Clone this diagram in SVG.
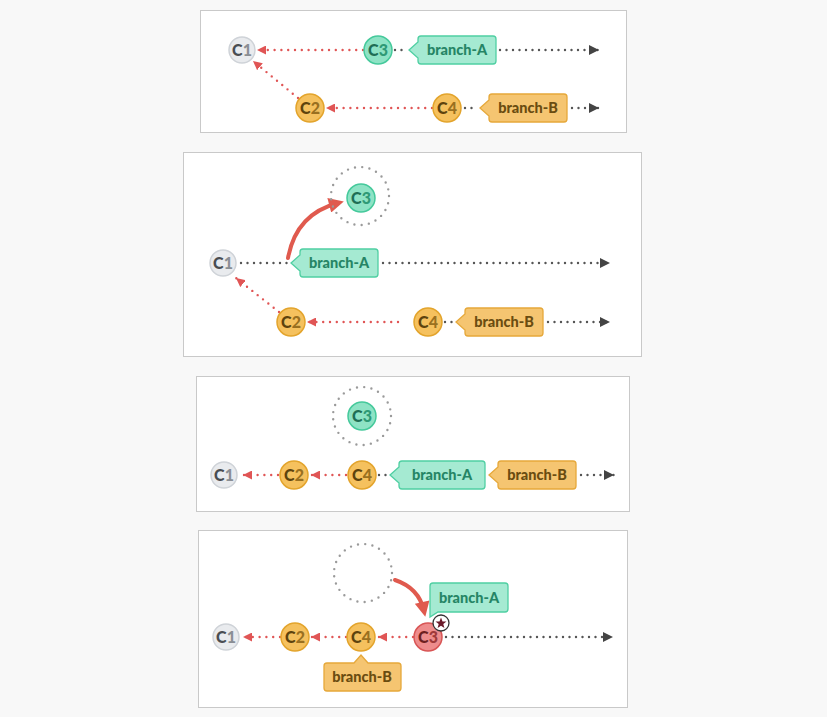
<svg xmlns="http://www.w3.org/2000/svg" width="827" height="717" viewBox="0 0 827 717">
<defs>
<style>
.frame{fill:#fff;stroke:#c9c9c9;stroke-width:1}
.nd{stroke-width:1.5}
.g{fill:#e9ebee;stroke:#cfd3d8}
.gr{fill:#8ee3c5;stroke:#45c99b}
.or{fill:#f5c15e;stroke:#e3a42c}
.rd{fill:#ee8c8c;stroke:#d85555}
.lbl{font-family:Lato,"Liberation Sans",sans-serif;font-weight:900;font-size:16px;text-anchor:middle}
.tg{font-family:Lato,"Liberation Sans",sans-serif;font-weight:900;font-size:14.5px;text-anchor:middle}
.tagA{fill:#a5ead2;stroke:#4fcfa2;stroke-width:1.3}
.tagB{fill:#f5c571;stroke:#e6a83a;stroke-width:1.3}
.tA{fill:#258565}
.tB{fill:#6a4c10}
.red{fill:none;stroke:#e05555;stroke-width:2.4;stroke-linecap:round;stroke-dasharray:0 6.8;marker-end:url(#ra)}
.blk{fill:none;stroke:#555;stroke-width:2.4;stroke-linecap:round;stroke-dasharray:0 6.5}
.blka{marker-end:url(#ka)}
.ghost{fill:none;stroke:#9a9a9a;stroke-width:2.4;stroke-linecap:round;stroke-dasharray:0 7.3}
.big{fill:none;stroke:#e05a4e;stroke-width:4;stroke-linecap:round;marker-end:url(#ba)}
</style>
<marker id="ra" viewBox="0 0 10 10" refX="10" refY="5" markerWidth="9" markerHeight="9" markerUnits="userSpaceOnUse" orient="auto"><path d="M0,0 L10,5 L0,10 z" fill="#e05555"/></marker>
<marker id="ka" viewBox="0 0 10 10" refX="10" refY="5" markerWidth="10" markerHeight="10" markerUnits="userSpaceOnUse" orient="auto"><path d="M0,0 L10,5 L0,10 z" fill="#444"/></marker>
<marker id="ba" viewBox="0 0 10 10" refX="6" refY="5" markerWidth="16" markerHeight="15" markerUnits="userSpaceOnUse" orient="auto"><path d="M0,0 L10,5 L0,10 z" fill="#e05a4e"/></marker>
</defs>
<rect width="827" height="717" fill="#f8f8f8"/>

<!-- Panel frames -->
<rect class="frame" x="200.5" y="10.5" width="426" height="122"/>
<rect class="frame" x="183.5" y="152.5" width="458" height="204"/>
<rect class="frame" x="196.5" y="376.5" width="433" height="135"/>
<rect class="frame" x="198.5" y="530.5" width="429" height="177"/>

<!-- Connectors -->
<g id="connectors">
<!-- panel 1 -->
<line class="red" x1="363" y1="50" x2="257" y2="50"/>
<line class="red" x1="298" y1="98" x2="253" y2="61"/>
<line class="red" x1="432" y1="108" x2="326" y2="108"/>
<line class="blk" x1="395" y1="50" x2="406" y2="50"/>
<line class="blk blka" x1="500" y1="50" x2="599" y2="50"/>
<line class="blk" x1="465" y1="108" x2="477" y2="108"/>
<line class="blk blka" x1="572" y1="108" x2="599" y2="108"/>
<!-- panel 2 -->
<line class="blk" x1="241" y1="263" x2="288" y2="263"/>
<line class="blk blka" x1="383" y1="263" x2="610" y2="263"/>
<line class="red" x1="398" y1="322" x2="307" y2="322"/>
<line class="red" x1="279" y1="312" x2="236" y2="278"/>
<line class="blk" x1="445" y1="322" x2="453" y2="322"/>
<line class="blk blka" x1="548" y1="322" x2="610" y2="322"/>
<path class="big" d="M288,258 Q296,214 338,203"/>
<!-- panel 3 -->
<line class="red" x1="278" y1="475" x2="243" y2="475"/>
<line class="red" x1="346" y1="475" x2="311" y2="475"/>
<line class="blk" x1="379" y1="475" x2="388" y2="475"/>
<line class="blk blka" x1="581" y1="475" x2="614" y2="475"/>
<!-- panel 4 -->
<line class="red" x1="280" y1="637" x2="243" y2="637"/>
<line class="red" x1="346" y1="637" x2="311" y2="637"/>
<line class="red" x1="413" y1="637" x2="378" y2="637"/>
<line class="blk blka" x1="446" y1="637" x2="613" y2="637"/>
<path class="big" d="M395,580 Q419,588 424,611"/>
</g>

<!-- Panel 1 nodes -->
<g id="p1-c1"><circle class="nd g" cx="242" cy="50" r="13"/><text class="lbl" x="242" y="55.5"><tspan fill="#4a4d52">C</tspan><tspan fill="#8a8e94">1</tspan></text></g>
<g id="p1-c3"><circle class="nd gr" cx="378" cy="50" r="14"/><text class="lbl" x="378" y="55.5"><tspan fill="#1f6e55">C</tspan><tspan fill="#2f9a76">3</tspan></text></g>
<g id="p1-c2"><circle class="nd or" cx="310" cy="108" r="14"/><text class="lbl" x="310" y="113.5"><tspan fill="#5e430d">C</tspan><tspan fill="#9a7020">2</tspan></text></g>
<g id="p1-c4"><circle class="nd or" cx="447" cy="108" r="14"/><text class="lbl" x="447" y="113.5"><tspan fill="#5e430d">C</tspan><tspan fill="#9a7020">4</tspan></text></g>
<g id="p1-branchA"><path class="tagA" d="M409,50 L418,42 V39 a3,3 0 0 1 3,-3 H493 a3,3 0 0 1 3,3 V61 a3,3 0 0 1 -3,3 H421 a3,3 0 0 1 -3,-3 V58 Z"/><text class="tg tA" x="457" y="55">branch-A</text></g>
<g id="p1-branchB"><path class="tagB" d="M480,108 L489,100 V97 a3,3 0 0 1 3,-3 H564 a3,3 0 0 1 3,3 V119 a3,3 0 0 1 -3,3 H492 a3,3 0 0 1 -3,-3 V116 Z"/><text class="tg tB" x="528" y="113">branch-B</text></g>

<!-- Panel 2 nodes -->
<g id="p2-c1"><circle class="nd g" cx="223" cy="263" r="13"/><text class="lbl" x="223" y="268.5"><tspan fill="#4a4d52">C</tspan><tspan fill="#8a8e94">1</tspan></text></g>
<g id="p2-c3"><circle class="ghost" cx="360" cy="196" r="29"/><circle class="nd gr" cx="361" cy="198" r="14"/><text class="lbl" x="361" y="203.5"><tspan fill="#1f6e55">C</tspan><tspan fill="#2f9a76">3</tspan></text></g>
<g id="p2-c2"><circle class="nd or" cx="291" cy="322" r="14"/><text class="lbl" x="291" y="327.5"><tspan fill="#5e430d">C</tspan><tspan fill="#9a7020">2</tspan></text></g>
<g id="p2-c4"><circle class="nd or" cx="428" cy="322" r="14"/><text class="lbl" x="428" y="327.5"><tspan fill="#5e430d">C</tspan><tspan fill="#9a7020">4</tspan></text></g>
<g id="p2-branchA"><path class="tagA" d="M291,263 L300,255 V252 a3,3 0 0 1 3,-3 H375 a3,3 0 0 1 3,3 V274 a3,3 0 0 1 -3,3 H303 a3,3 0 0 1 -3,-3 V271 Z"/><text class="tg tA" x="339" y="268">branch-A</text></g>
<g id="p2-branchB"><path class="tagB" d="M456,322 L465,314 V311 a3,3 0 0 1 3,-3 H540 a3,3 0 0 1 3,3 V333 a3,3 0 0 1 -3,3 H468 a3,3 0 0 1 -3,-3 V330 Z"/><text class="tg tB" x="504" y="327">branch-B</text></g>

<!-- Panel 3 nodes -->
<g id="p3-c3"><circle class="ghost" cx="362" cy="416" r="29"/><circle class="nd gr" cx="362" cy="416" r="14"/><text class="lbl" x="362" y="421.5"><tspan fill="#1f6e55">C</tspan><tspan fill="#2f9a76">3</tspan></text></g>
<g id="p3-c1"><circle class="nd g" cx="224" cy="475" r="13"/><text class="lbl" x="224" y="480.5"><tspan fill="#4a4d52">C</tspan><tspan fill="#8a8e94">1</tspan></text></g>
<g id="p3-c2"><circle class="nd or" cx="294" cy="475" r="14"/><text class="lbl" x="294" y="480.5"><tspan fill="#5e430d">C</tspan><tspan fill="#9a7020">2</tspan></text></g>
<g id="p3-c4"><circle class="nd or" cx="362" cy="475" r="14"/><text class="lbl" x="362" y="480.5"><tspan fill="#5e430d">C</tspan><tspan fill="#9a7020">4</tspan></text></g>
<g id="p3-branchA"><path class="tagA" d="M390,475 L399,467 V464 a3,3 0 0 1 3,-3 H482 a3,3 0 0 1 3,3 V486 a3,3 0 0 1 -3,3 H402 a3,3 0 0 1 -3,-3 V483 Z"/><text class="tg tA" x="442" y="480">branch-A</text></g>
<g id="p3-branchB"><path class="tagB" d="M489,475 L498,467 V464 a3,3 0 0 1 3,-3 H573 a3,3 0 0 1 3,3 V486 a3,3 0 0 1 -3,3 H501 a3,3 0 0 1 -3,-3 V483 Z"/><text class="tg tB" x="537" y="480">branch-B</text></g>

<!-- Panel 4 nodes -->
<g id="p4-ghost"><circle class="ghost" cx="363" cy="573" r="29"/></g>
<g id="p4-c1"><circle class="nd g" cx="226" cy="637" r="13"/><text class="lbl" x="226" y="642.5"><tspan fill="#4a4d52">C</tspan><tspan fill="#8a8e94">1</tspan></text></g>
<g id="p4-c2"><circle class="nd or" cx="295" cy="637" r="14"/><text class="lbl" x="295" y="642.5"><tspan fill="#5e430d">C</tspan><tspan fill="#9a7020">2</tspan></text></g>
<g id="p4-c4"><circle class="nd or" cx="361" cy="637" r="14"/><text class="lbl" x="361" y="642.5"><tspan fill="#5e430d">C</tspan><tspan fill="#9a7020">4</tspan></text></g>
<g id="p4-c3"><circle class="nd rd" cx="428" cy="637" r="14"/><text class="lbl" x="428" y="642.5"><tspan fill="#6e1f1f">C</tspan><tspan fill="#a03a3a">3</tspan></text>
<circle cx="441" cy="623" r="8" fill="#fff" stroke="#333" stroke-width="1.3"/>
<polygon points="441,617.5 442.5,621.5 446.5,621.6 443.3,624.1 444.4,628 441,625.7 437.6,628 438.7,624.1 435.5,621.6 439.5,621.5" fill="#6b1a2a"/></g>
<g id="p4-branchA"><path class="tagA" d="M430,586 a3,3 0 0 1 3,-3 H505 a3,3 0 0 1 3,3 V609 a3,3 0 0 1 -3,3 H438 L430,617 Z"/><text class="tg tA" x="469" y="603">branch-A</text></g>
<g id="p4-branchB"><path class="tagB" d="M327,663 H354 L361,655 L368,663 H398 a3,3 0 0 1 3,3 V688 a3,3 0 0 1 -3,3 H327 a3,3 0 0 1 -3,-3 V666 a3,3 0 0 1 3,-3 Z"/><text class="tg tB" x="362" y="682">branch-B</text></g>
</svg>
